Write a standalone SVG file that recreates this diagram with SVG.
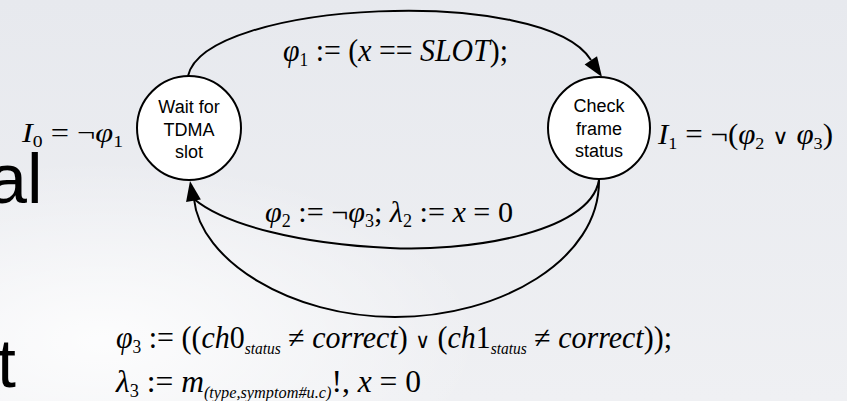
<svg xmlns="http://www.w3.org/2000/svg" xmlns:xlink="http://www.w3.org/1999/xlink" width="847" height="401" viewBox="0 0 847 401">
<defs>
<linearGradient id="bg" x1="0" y1="0" x2="0" y2="1">
<stop offset="0" stop-color="#e7e9ee"/>
<stop offset="1" stop-color="#eff0f3"/>
</linearGradient>
<radialGradient id="haze" cx="0.12" cy="0.85" r="0.45">
<stop offset="0" stop-color="#ffffff" stop-opacity="0.85"/>
<stop offset="1" stop-color="#ffffff" stop-opacity="0"/>
</radialGradient>
<path id="ah" d="M0,0 L-20,-7.5 L-20,7.5 Z" fill="#000"/>
</defs>
<style>
.node{fill:#fff;stroke:#000;stroke-width:2}
.nt{font-family:"Liberation Sans",Arial,sans-serif;font-size:18px;fill:#000;text-anchor:middle}
.edge{fill:none;stroke:#000;stroke-width:2}
.m{font-family:"Liberation Serif","Times New Roman",serif;fill:#000}
.i{font-style:italic}
.or{font-family:"DejaVu Sans",sans-serif;font-size:21px}
.bgt{font-family:"Liberation Sans",Arial,sans-serif;fill:#000}
</style>
<rect width="847" height="401" fill="url(#bg)"/>
<rect width="847" height="401" fill="url(#haze)"/>
<text class="bgt" x="-12" y="203" font-size="70">al</text>
<text class="bgt" x="-3" y="387" font-size="68">t</text>

<g id="connectors">
<path class="edge" d="M188,76 C205,0 545,-15 591,60"/>
<use xlink:href="#ah" href="#ah" transform="translate(602,77) rotate(56)"/>
<path class="edge" d="M599,180 C590,235 460,252 390,248 C300,244 225,225 194,199"/>
<path class="edge" d="M599,180 C600,260 500,317 395,317 C290,317 200,260 194,199"/>
<use xlink:href="#ah" href="#ah" transform="translate(190,181) rotate(-100)"/>
</g>

<g id="node-wait">
<circle class="node" cx="189" cy="128" r="52"/>
<text class="nt" x="189" y="113">Wait for</text>
<text class="nt" x="189" y="136">TDMA</text>
<text class="nt" x="189" y="158">slot</text>
</g>

<g id="node-check">
<circle class="node" cx="599" cy="128" r="51"/>
<text class="nt" x="599" y="112">Check</text>
<text class="nt" x="599" y="135">frame</text>
<text class="nt" x="599" y="157">status</text>
</g>

<g id="labels">
<text class="m" x="283" y="61" font-size="31" textLength="225" lengthAdjust="spacingAndGlyphs"><tspan class="i">φ</tspan><tspan font-size="18" dy="5">1</tspan><tspan dy="-5"> := (</tspan><tspan class="i">x</tspan> == <tspan class="i">SLOT</tspan>);</text>
<text class="m" x="22" y="142" font-size="28" textLength="101" lengthAdjust="spacingAndGlyphs"><tspan class="i">I</tspan><tspan font-size="17" dy="5">0</tspan><tspan dy="-5"> = ¬</tspan><tspan class="i">φ</tspan><tspan font-size="17" dy="5">1</tspan></text>
<text class="m" x="658" y="144" font-size="29" textLength="175" lengthAdjust="spacingAndGlyphs"><tspan class="i">I</tspan><tspan font-size="17" dy="5">1</tspan><tspan dy="-5"> = ¬(</tspan><tspan class="i">φ</tspan><tspan font-size="17" dy="5">2</tspan><tspan dy="-5"> </tspan><tspan class="or">∨</tspan> <tspan class="i">φ</tspan><tspan font-size="17" dy="5">3</tspan><tspan dy="-5">)</tspan></text>
<text class="m" x="265" y="222" font-size="30" textLength="248" lengthAdjust="spacingAndGlyphs"><tspan class="i">φ</tspan><tspan font-size="18" dy="5">2</tspan><tspan dy="-5"> := ¬</tspan><tspan class="i">φ</tspan><tspan font-size="18" dy="5">3</tspan><tspan dy="-5">; </tspan><tspan class="i">λ</tspan><tspan font-size="18" dy="5">2</tspan><tspan dy="-5"> := </tspan><tspan class="i">x</tspan> = 0</text>
<text class="m" x="116" y="348" font-size="31" textLength="556" lengthAdjust="spacingAndGlyphs"><tspan class="i">φ</tspan><tspan font-size="18" dy="5">3</tspan><tspan dy="-5"> := ((</tspan><tspan class="i">ch</tspan>0<tspan class="i" font-size="16" dy="6">status</tspan><tspan dy="-6"> ≠ </tspan><tspan class="i">correct</tspan>) <tspan class="or">∨</tspan> (<tspan class="i">ch</tspan>1<tspan class="i" font-size="16" dy="6">status</tspan><tspan dy="-6"> ≠ </tspan><tspan class="i">correct</tspan>));</text>
<text class="m" x="116" y="392" font-size="31" textLength="305" lengthAdjust="spacingAndGlyphs"><tspan class="i">λ</tspan><tspan font-size="18" dy="5">3</tspan><tspan dy="-5"> := </tspan><tspan class="i">m</tspan><tspan class="i" font-size="16" dy="6">(type,symptom#u.c)</tspan><tspan dy="-6">!, </tspan><tspan class="i">x</tspan> = 0</text>
</g>
</svg>
